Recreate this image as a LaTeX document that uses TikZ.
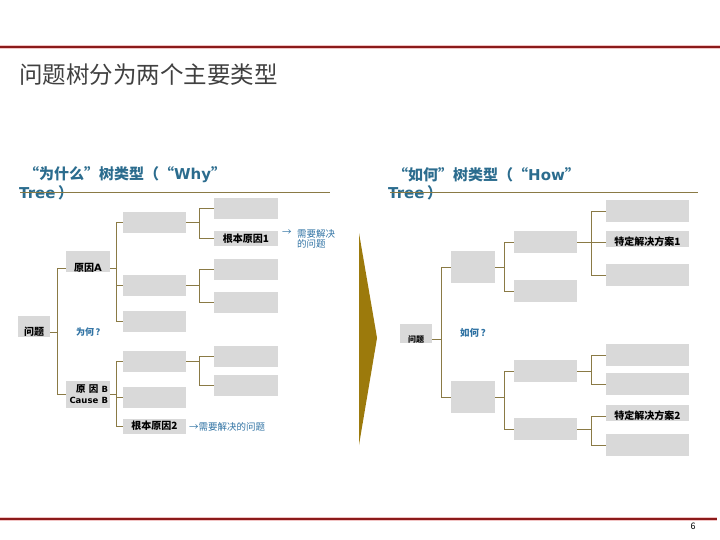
\documentclass[tikz,border=0pt]{standalone}
\usepackage{fontspec}
\setmainfont{Noto Sans CJK SC}
\newfontfamily\latf{DejaVu Sans}
\definecolor{titlegray}{HTML}{404040}
\definecolor{headblue}{HTML}{2B6C8E}
\definecolor{smallblue}{HTML}{2F72A3}
\definecolor{boxgray}{HTML}{D9D9D9}
\definecolor{conncol}{HTML}{8A7A45}
\definecolor{chevgold}{HTML}{9C7A0C}
\definecolor{darkred}{HTML}{8B1A1A}
\definecolor{redglow}{HTML}{F2C4C4}
\newcommand\boxfont{\fontsize{10}{11}\selectfont\bfseries}
\begin{document}
\begin{tikzpicture}[x=1pt,y=-1pt,
  box/.style={fill=boxgray, inner sep=0pt, font=\boxfont},
  lvthree/.style={box, minimum width=64pt, minimum height=21pt},
  lvtwo/.style={box, minimum width=63pt, minimum height=21pt},
  lvone/.style={box, minimum width=44pt, minimum height=21pt},
  rthree/.style={box, minimum width=83pt, minimum height=22pt},
  rtwo/.style={box, minimum width=63pt, minimum height=22pt},
  rone/.style={box, minimum width=44pt, minimum height=32pt},
  conn/.style={draw=conncol, line width=0.9pt},
  heading/.style={inner sep=0pt, anchor=west, text=headblue, font=\fontsize{15}{17}\selectfont\bfseries},
  note/.style={inner sep=0pt, anchor=west, text=smallblue, font=\fontsize{9.5}{10.5}\selectfont},
  ask/.style={inner sep=0pt, anchor=west, text=smallblue, font=\fontsize{9.5}{10.5}\selectfont\bfseries}]
\useasboundingbox (0,0) rectangle (720,540);

% frame lines
\draw[line width=4pt, redglow] (0,47) -- (720,47);
\draw[line width=2pt, darkred] (0,47) -- (720,47);
\draw[line width=4pt, redglow] (0,519) -- (717,519);
\draw[line width=2pt, darkred] (0,519) -- (717,519);
\node[inner sep=0pt, font=\fontsize{9}{10}\selectfont] (pg) at (693,526) {6};

% title
\node[inner sep=0pt, anchor=west, text=titlegray, font=\fontsize{23.5}{26}\selectfont] (title) at (19,75) {问题树分为两个主要类型};

% headings
\node[heading] (hl1) at (24,175) {“为什么”树类型（“{\latf\bfseries Why}”};
\node[heading] (hl2) at (19,193) {{\latf\bfseries Tree}\,）};
\draw[conncol, line width=0.8pt] (20,192) -- (330,192);
\node[heading] (hr1) at (393,175) {“如何”树类型（“{\latf\bfseries How}”};
\node[heading] (hr2) at (388,193) {{\latf\bfseries Tree}\,）};
\draw[conncol, line width=0.8pt] (390,192) -- (698,192);

% chevron
\fill[chevgold] (359,233) -- (375,326) -- (377,338) -- (375,350) -- (359,445) -- cycle;

% ---------- left tree ----------
\node[box, minimum width=32pt, text height=19pt, text depth=2pt] (LQ) at (34,326.5) {问题};
\node[lvone, text height=20pt, text depth=1pt] (LA) at (88,261.5) {原因{\latf\bfseries A}};
\node[lvone, minimum height=27pt, align=right, text width=40pt, font=\fontsize{9.5}{11}\selectfont\bfseries] (LB) at (88,394.5) {原 因 {\latf\bfseries\fontsize{8.5}{11}\selectfont B}\\{\latf\bfseries\fontsize{8.5}{11}\selectfont Cause B}};

\node[lvtwo] (L2a) at (154.5,222.5) {};
\node[lvtwo] (L2b) at (154.5,285) {};
\node[lvtwo] (L2c) at (154.5,321) {};
\node[lvtwo] (L2d) at (154.5,361.5) {};
\node[lvtwo] (L2e) at (154.5,397) {};
\node[lvtwo, minimum height=15pt] (L2f) at (154.5,426) {根本原因2};

\node[lvthree] (L3a) at (246,208.5) {};
\node[lvthree, minimum height=15pt] (L3b) at (246,238.5) {根本原因1};
\node[lvthree] (L3c) at (246,269.5) {};
\node[lvthree] (L3d) at (246,302.5) {};
\node[lvthree] (L3e) at (246,356) {};
\node[lvthree] (L3f) at (246,385) {};

\node[ask, font=\fontsize{9}{10}\selectfont\bfseries] (why) at (76,332) {为何\,？};
\node[note] (arr1) at (282,233) {→};
\node[note, align=left] (need1) at (297,239) {需要解决\\的问题};
\node[note] (need2) at (189,427) {→需要解决的问题};

\draw[conn] (LQ.mid east) -- ++(8,0);
\draw[conn] (LA.mid west) -- ++(-8,0) |- (LB.west);
\draw[conn] (LA.mid east) -- ++(7,0);
\draw[conn] (L2a.west) -- ++(-6,0) |- (L2c.west);
\draw[conn] (L2b.west) -- ++(-6,0);
\draw[conn] (L2a.east) -- ++(14,0);
\draw[conn] (L3a.west) -- ++(-14,0) |- (L3b.west);
\draw[conn] (L2b.east) -- ++(14,0);
\draw[conn] (L3c.west) -- ++(-14,0) |- (L3d.west);
\draw[conn] (LB.east) -- ++(7,0);
\draw[conn] (L2d.west) -- ++(-6,0) |- (L2f.west);
\draw[conn] (L2e.west) -- ++(-6,0);
\draw[conn] (L2d.east) -- ++(14,0);
\draw[conn] (L3e.west) -- ++(-14,0) |- (L3f.west);

% ---------- right tree ----------
\node[box, minimum width=32pt, text height=18pt, text depth=1pt, font=\fontsize{8}{9}\selectfont\bfseries] (RQ) at (416,333.5) {问题};
\node[rone] (RA) at (473,267) {};
\node[rone] (RB) at (473,397) {};

\node[rtwo] (R2a) at (545.5,242) {};
\node[rtwo] (R2b) at (545.5,291) {};
\node[rtwo] (R2c) at (545.5,371) {};
\node[rtwo] (R2d) at (545.5,429) {};

\node[rthree] (R3a) at (647.5,211) {};
\node[rthree, minimum height=16pt, text height=14.6pt, text depth=1.4pt] (R3b) at (647.5,239) {特定解决方案1};
\node[rthree] (R3c) at (647.5,275) {};
\node[rthree] (R3d) at (647.5,355) {};
\node[rthree] (R3e) at (647.5,384) {};
\node[rthree, minimum height=16pt, text height=14.6pt, text depth=1.4pt] (R3f) at (647.5,413) {特定解决方案2};
\node[rthree] (R3g) at (647.5,445) {};

\node[ask] (how) at (460,333) {如何\,？};

\draw[conn] (RQ.mid east) -- ++(10,0);
\draw[conn] (RA.west) -- ++(-9,0) |- (RB.west);
\draw[conn] (RA.east) -- ++(10,0);
\draw[conn] (R2a.west) -- ++(-9,0) |- (R2b.west);
\draw[conn] (R2a.east) -- (R2a.east -| R3b.west);
\draw[conn] (R3a.west) -- ++(-14,0) |- (R3c.west);
\draw[conn] (RB.east) -- ++(10,0);
\draw[conn] (R2c.west) -- ++(-9,0) |- (R2d.west);
\draw[conn] (R2c.east) -- ++(15,0);
\draw[conn] (R3d.west) -- ++(-14,0) |- (R3e.west);
\draw[conn] (R2d.east) -- ++(15,0);
\draw[conn] (R3f.mid west) -- ++(-14,0) |- (R3g.west);
\end{tikzpicture}
\end{document}
